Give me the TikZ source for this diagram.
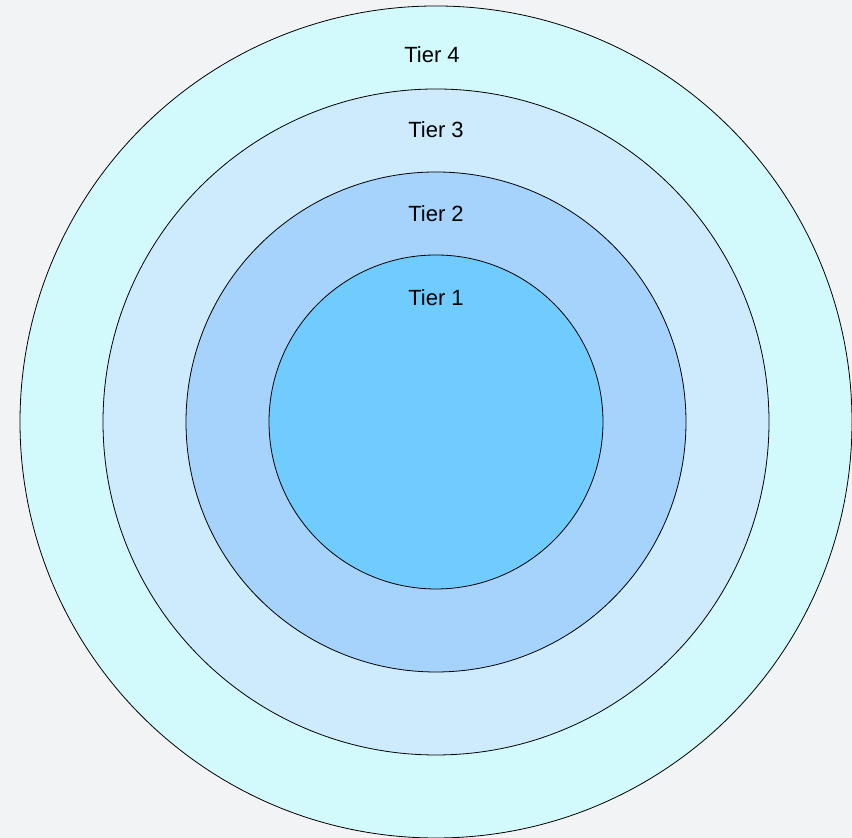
\documentclass[tikz,border=0pt]{standalone}
\usepackage{fontspec}
\setmainfont{Liberation Sans}
\definecolor{nenxam}{HTML}{F2F3F5}
\definecolor{tangbon}{HTML}{D2FAFC}
\definecolor{tangba}{HTML}{CDEBFC}
\definecolor{tanghai}{HTML}{A6D3FC}
\definecolor{tangmot}{HTML}{70CCFD}
\tikzset{tier/.style={font=\fontsize{11}{13}\selectfont, text=black, inner sep=0pt}}
\begin{document}
\begin{tikzpicture}[x=0.5pt, y=0.5pt]
			\fill[nenxam] (0,0) rectangle (852,838);
			\useasboundingbox (0,0) rectangle (852,838);
			\coordinate (tam) at (436,416);
			\draw[fill = tangbon, line width=0.4pt] (tam) circle (416);
			\draw[fill = tangba, line width=0.4pt] (tam) circle (333);
			\draw[fill = tanghai, line width=0.4pt] (tam) circle (250);
			\draw[fill = tangmot, line width=0.4pt] (tam) circle (167);
			\node[tier] (bon) at (432,783) {Tier 4};
			\node[tier] (ba) at (436,708) {Tier 3};
			\node[tier] (hai) at (436,624) {Tier 2};
			\node[tier] (mot) at (436,540) {Tier 1};
		\end{tikzpicture}
\end{document}
